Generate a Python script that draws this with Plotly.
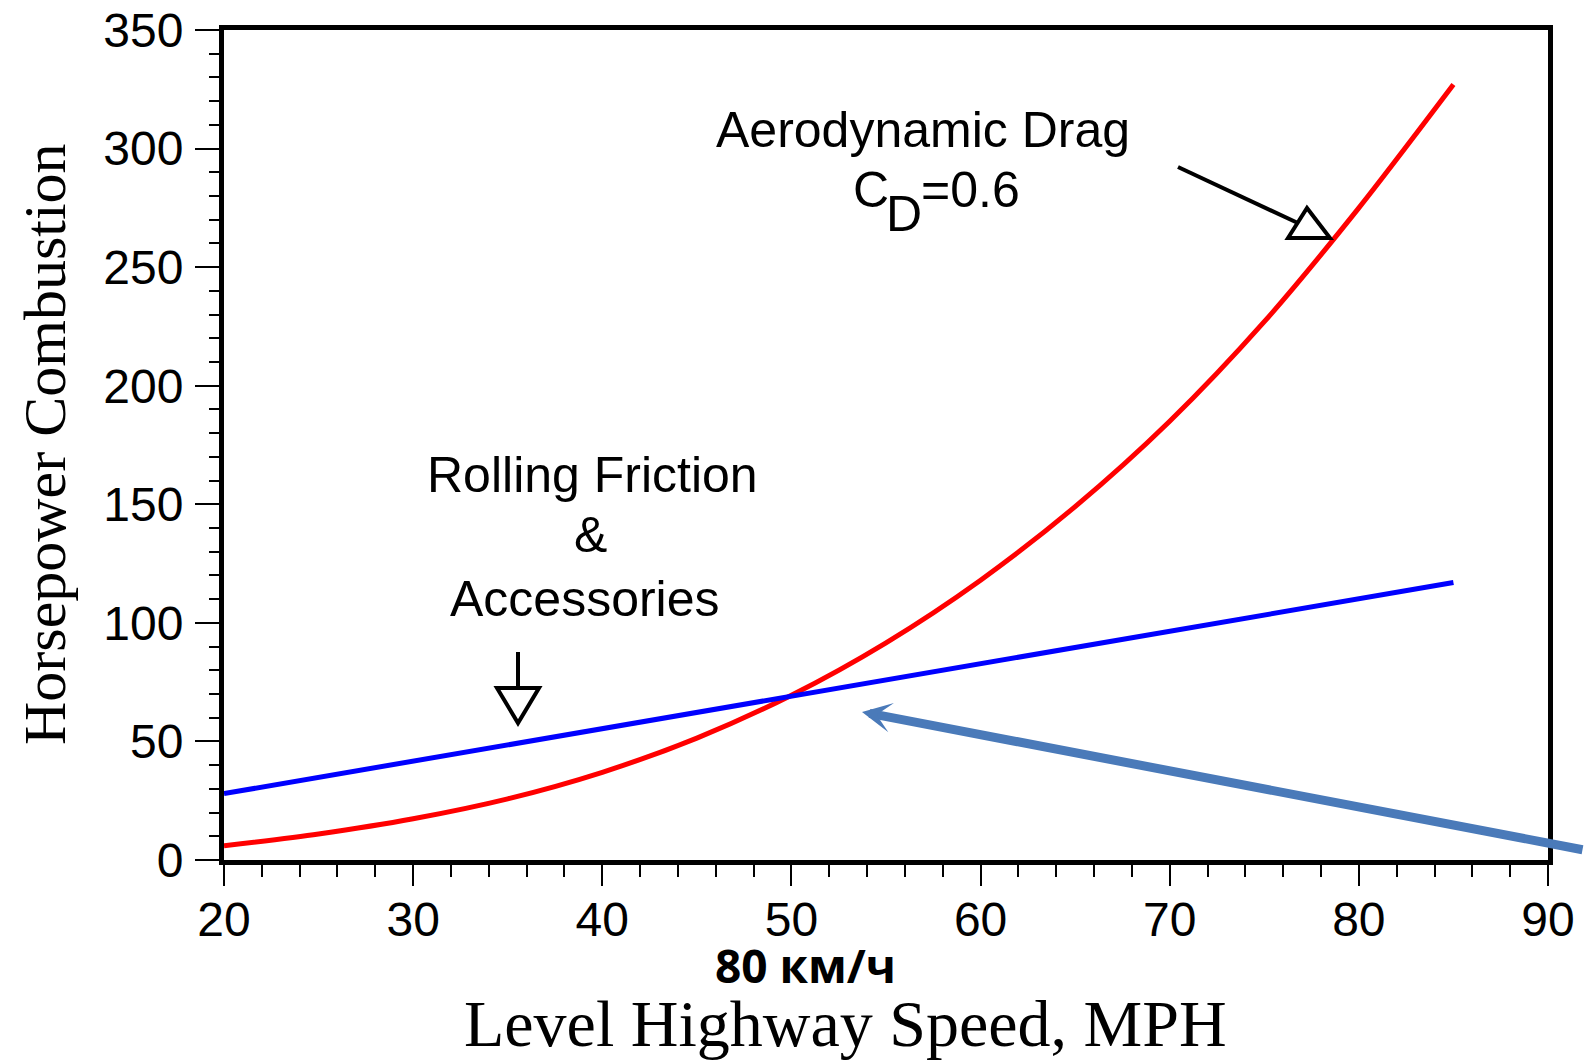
import plotly.graph_objects as go

# ---------------- data ----------------
speed_mph = [20, 25, 30, 35, 40, 45, 50, 55, 60, 65, 70, 75, 80, 85]
aero_drag_hp = [6, 11, 17.4, 25.8, 37, 51.4, 69.5, 91.6, 118, 149, 185, 227, 275, 327]

rolling_speed_mph = [20, 85]
rolling_hp = [28, 117]

x_tick_vals = [20, 30, 40, 50, 60, 70, 80, 90]
y_tick_vals = [0, 50, 100, 150, 200, 250, 300, 350]

# ---------------- layout geometry (pixels of a 1584x1062 page) ----------------
W, H = 1584, 1062
ML, MR, MT, MB = 224, 36, 30, 202
PW = W - ML - MR
PH = H - MT - MB
X0, X1 = 20, 90
Y0, Y1 = 0, 350


def dx(px):
    return X0 + (px - ML) * (X1 - X0) / PW


def dy(py):
    return Y0 + (MT + PH - py) * (Y1 - Y0) / PH


def px_(px):
    return (px - ML) / PW


def py_(py):
    return (MT + PH - py) / PH


SANS = "Liberation Sans, Arial, Helvetica, sans-serif"
SERIF = "Liberation Serif, Times New Roman, serif"

fig = go.Figure()
fig.add_trace(go.Scatter(x=speed_mph, y=aero_drag_hp, mode="lines",
                         line=dict(color="#ff0000", width=5, shape="spline", smoothing=0.8),
                         name="Aerodynamic Drag", showlegend=False))
fig.add_trace(go.Scatter(x=rolling_speed_mph, y=rolling_hp, mode="lines",
                         line=dict(color="#0000ff", width=5),
                         name="Rolling Friction & Accessories", showlegend=False))

axis_common = dict(
    showline=True, linewidth=5, linecolor="black", mirror=True,
    showgrid=False, zeroline=False,
    ticks="outside", tickwidth=2, tickcolor="black",
    tickfont=dict(family=SANS, size=48, color="black"),
)

fig.update_xaxes(range=[X0, X1], tickvals=x_tick_vals, ticklen=21,
                 ticklabelstandoff=-8,
                 minor=dict(dtick=2, ticks="outside", ticklen=12, tickwidth=2,
                            tickcolor="black", showgrid=False),
                 **axis_common)
fig.update_yaxes(range=[Y0, Y1], tickvals=y_tick_vals, ticklen=24,
                 ticklabelstandoff=2,
                 minor=dict(dtick=10, ticks="outside", ticklen=10, tickwidth=2,
                            tickcolor="black", showgrid=False),
                 **axis_common)

annotations = []


def text_ann(txt, cx, cy, size, family=SANS, color="black"):
    annotations.append(dict(text=txt, x=px_(cx), y=py_(cy), xref="paper", yref="paper",
                            xanchor="center", yanchor="middle", showarrow=False,
                            font=dict(family=family, size=size, color=color)))


# in-plot labels
text_ann("Aerodynamic Drag", 923, 129.5, 50)
text_ann("C", 870.5, 189.5, 50)
text_ann("D", 904, 213.5, 50)
text_ann("=0.6", 970.5, 189.5, 50)
text_ann("Rolling Friction", 592, 474.5, 50)
text_ann("&", 590, 535, 50)
text_ann("Accessories", 585, 598.5, 50)

# axis titles and extra label
text_ann("Level Highway Speed, MPH", 845, 1023, 66, family=SERIF)
text_ann("<b>80 км/ч</b>", 805, 965, 46, family="Open Sans, sans-serif")
annotations.append(dict(text="Horsepower Combustion", x=px_(44.5), y=py_(444.5),
                        xref="paper", yref="paper", xanchor="center", yanchor="middle",
                        textangle=-90, showarrow=False,
                        font=dict(family=SERIF, size=60, color="black")))

# blue arrow pointing at the crossing point
annotations.append(dict(text="", x=dx(862), y=dy(712), xref="x", yref="y",
                        ax=730, ay=138, axref="pixel", ayref="pixel",
                        showarrow=True, arrowhead=3, arrowsize=0.55, arrowwidth=9,
                        arrowcolor="#4a7ab9", standoff=0))

shapes = []
blk = dict(color="black", width=4)
# arrow to the aerodynamic curve
shapes.append(dict(type="line", xref="x", yref="y",
                   x0=dx(1178), y0=dy(167), x1=dx(1300), y1=dy(224), line=blk))
shapes.append(dict(type="path", xref="x", yref="y",
                   path=f"M{dx(1288)},{dy(238)} L{dx(1307)},{dy(208)} L{dx(1330)},{dy(238)} Z",
                   line=blk, fillcolor="white"))
# arrow to the rolling friction line
shapes.append(dict(type="line", xref="x", yref="y",
                   x0=dx(518), y0=dy(652), x1=dx(518), y1=dy(690), line=blk))
shapes.append(dict(type="path", xref="x", yref="y",
                   path=f"M{dx(497)},{dy(688)} L{dx(539)},{dy(688)} L{dx(518)},{dy(723)} Z",
                   line=blk, fillcolor="white"))

fig.update_layout(
    width=W, height=H,
    margin=dict(l=ML, r=MR, t=MT, b=MB, pad=0, autoexpand=False),
    paper_bgcolor="white", plot_bgcolor="white",
    showlegend=False,
    annotations=annotations,
    shapes=shapes,
)

fig.write_html(
    "out.html",
    config={"displayModeBar": False},
    post_script="document.body.style.margin='0';document.body.style.padding='0';"
                "document.documentElement.style.overflow='hidden';",
)
